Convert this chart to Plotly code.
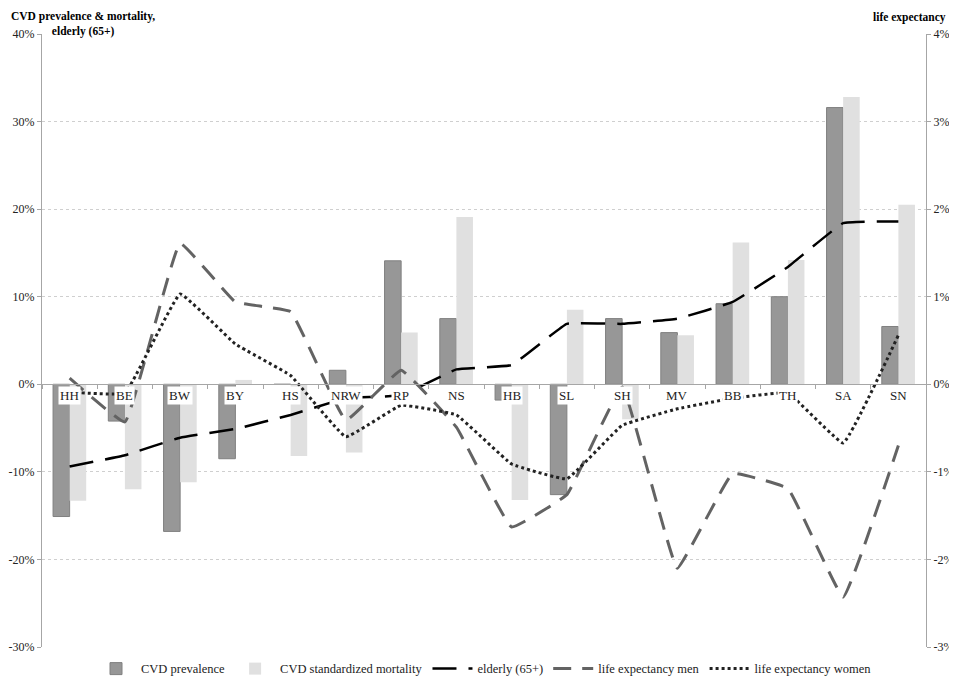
import plotly.graph_objects as go

# German federal states
states = ["HH", "BE", "BW", "BY", "HS", "NRW", "RP", "NS",
          "HB", "SL", "SH", "MV", "BB", "TH", "SA", "SN"]

# percent deviations from national mean (left axis)
cvd_prevalence = [-15.1, -4.2, -16.8, -8.5, 0.0, 1.6, 14.1, 7.5,
                  -1.8, -12.6, 7.5, 5.9, 9.2, 10.0, 31.6, 6.6]
cvd_mortality = [-13.3, -12.0, -11.2, 0.5, -8.2, -7.8, 5.9, 19.1,
                 -13.2, 8.5, -4.0, 5.6, 16.2, 14.2, 32.8, 20.5]
elderly = [-9.4, -8.1, -6.1, -5.1, -3.5, -1.6, -1.25, 1.7,
           2.2, 6.9, 6.9, 7.5, 9.4, 13.4, 18.4, 18.6]

# life expectancy (right axis)
life_exp_men = [0.07, -0.43, 1.61, 0.94, 0.83, -0.41, 0.16, -0.49,
                -1.63, -1.26, -0.03, -2.10, -1.02, -1.19, -2.43, -0.70]
life_exp_women = [-0.09, -0.10, 1.03, 0.46, 0.10, -0.60, -0.24, -0.35,
                  -0.91, -1.08, -0.47, -0.28, -0.16, -0.10, -0.67, 0.56]

# tick labels (plain hyphen minus, as in the original)
left_ticks = [-30, -20, -10, 0, 10, 20, 30, 40]
left_labels = ["-30%", "-20%", "-10%", "0%", "10%", "20%", "30%", "40%"]
right_ticks = [-3, -2, -1, 0, 1, 2, 3, 4]
right_labels = ["-3%", "-2%", "-1%", "0%", "1%", "2%", "3%", "4%"]

FONT = "Liberation Serif"

fig = go.Figure()

fig.add_trace(go.Bar(
    x=states, y=cvd_prevalence, name="CVD prevalence",
    marker=dict(color="#979797", line=dict(color="#808080", width=1)),
))
fig.add_trace(go.Bar(
    x=states, y=cvd_mortality, name="CVD standardized mortality",
    marker=dict(color="#e0e0e0", line=dict(width=0)),
))
fig.add_trace(go.Scatter(
    x=states, y=elderly, name="elderly (65+)", mode="lines",
    line=dict(color="black", width=2.5, dash="24px,12px", shape="spline", smoothing=0.25),
))
fig.add_trace(go.Scatter(
    x=states, y=life_exp_men, name="life expectancy men", mode="lines", yaxis="y2",
    line=dict(color="#636363", width=3, dash="18px,11px", shape="spline", smoothing=0.25),
))
fig.add_trace(go.Scatter(
    x=states, y=life_exp_women, name="life expectancy women", mode="lines", yaxis="y2",
    line=dict(color="#222222", width=3, dash="dot", shape="spline", smoothing=0.25),
))

# category labels sit on the zero line with a white box
for s in states:
    fig.add_annotation(x=s, y=0, yref="y", text=s, showarrow=False,
                       yanchor="top", yshift=-2, bgcolor="white",
                       font=dict(family=FONT, size=13, color="#222"))

fig.add_annotation(x=0.046, y=1.0, xref="paper", yref="paper", yshift=26,
                   text="<b>CVD prevalence & mortality,<br>elderly (65+)</b>",
                   showarrow=False, align="center", xanchor="center", yanchor="top",
                   font=dict(family=FONT, size=11.5, color="black"))
fig.add_annotation(x=0.981, y=1.0, xref="paper", yref="paper", yshift=25,
                   text="<b>life expectancy</b>", showarrow=False,
                   xanchor="center", yanchor="top",
                   font=dict(family=FONT, size=11.5, color="black"))

# page body adds an 8px margin, so the figure is drawn slightly smaller
fig.update_layout(
    width=949, height=669,
    margin=dict(l=34, r=31, t=26, b=30, autoexpand=False),
    paper_bgcolor="white", plot_bgcolor="white",
    barmode="group", bargap=0.4, bargroupgap=0,
    font=dict(family=FONT, size=12, color="#222"),
    showlegend=True,
    legend=dict(orientation="h", x=0.5, xanchor="center",
                yref="container", y=0.012, yanchor="middle",
                font=dict(family=FONT, size=12.5), itemwidth=40,
                traceorder="normal", bgcolor="rgba(0,0,0,0)"),
    xaxis=dict(
        anchor="free", position=3 / 7,
        showticklabels=False, showgrid=False,
        showline=True, linecolor="#a6a6a6", linewidth=1,
        ticks="outside", tickson="boundaries", ticklen=4, tickcolor="#a6a6a6",
        range=[-0.5, 15.5],
    ),
    yaxis=dict(
        range=[-30, 40], tickvals=left_ticks, ticktext=left_labels, automargin=False,
        showgrid=True, gridcolor="#cfcfcf", griddash="dot", gridwidth=1,
        zeroline=False,
        showline=True, linecolor="#a6a6a6", linewidth=1,
        ticks="outside", ticklen=4, tickcolor="#a6a6a6",
        tickfont=dict(family=FONT, size=12),
    ),
    yaxis2=dict(
        range=[-3, 4], tickvals=right_ticks, ticktext=right_labels,
        overlaying="y", side="right", automargin=False,
        showgrid=False, zeroline=False,
        showline=True, linecolor="#a6a6a6", linewidth=1,
        ticks="outside", ticklen=4, tickcolor="#a6a6a6",
        tickfont=dict(family=FONT, size=12),
    ),
)

fig.write_html("out.html")
